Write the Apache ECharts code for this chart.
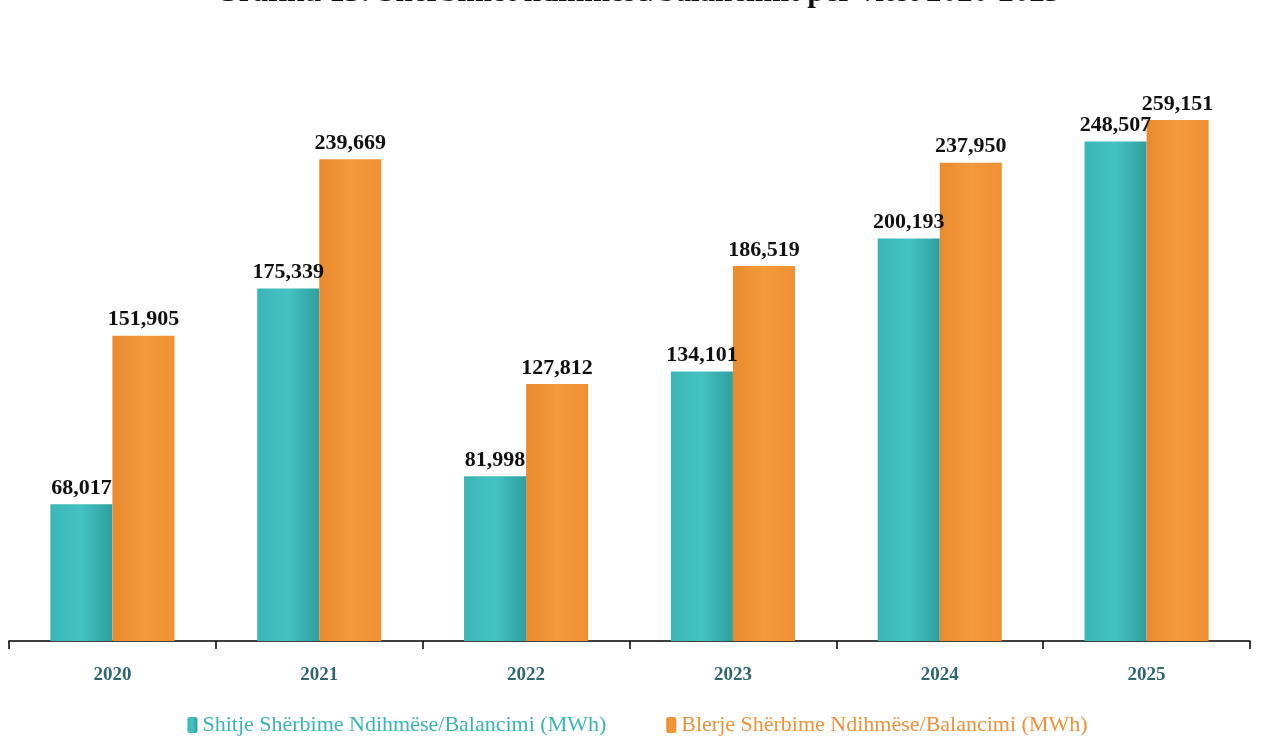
<!DOCTYPE html>
<html>
<head>
<meta charset="utf-8">
<title>Grafiku</title>
<script src="https://cdn.jsdelivr.net/npm/echarts@6/dist/echarts.min.js"></script>
<style>
	html,body{margin:0;padding:0;background:#fff;}
	#chart{width:1275px;height:743px;}
</style>
</head>
<body>
<div id="chart"></div>
<script>
	// te dhenat
	var years = ['2020','2021','2022','2023','2024','2025'];
	var shitje = [68017, 175339, 81998, 134101, 200193, 248507];
	var blerje = [151905, 239669, 127812, 186519, 237950, 259151];
	var seriesNames = ['Shitje Shërbime Ndihmëse/Balancimi (MWh)', 'Blerje Shërbime Ndihmëse/Balancimi (MWh)'];

	var serif = '"Liberation Serif", "DejaVu Serif", serif';

	var fmt = function(v){
		return String(v).replace(/\B(?=(\d{3})+(?!\d))/g, ',');
	};

	var grad = function(c1, c2, c3){
		return new echarts.graphic.LinearGradient(0, 0, 1, 0, [
			{offset:0, color:c1},
			{offset:0.5, color:c2},
			{offset:1, color:c3}
		]);
	};

	var labelStyle = {
		show:true,
		position:'top',
		distance:5,
		fontFamily:serif,
		fontWeight:'bold',
		fontSize:22,
		color:'#111',
		formatter:function(p){ return fmt(p.value); }
	};

	var myChart = echarts.init(document.getElementById('chart'));
	var option = {
		animation:false,
		title:{
			text:'Grafiku 13: Shërbimet ndihmëse/balancimit për vitet 2020-2025',
			left:'center',
			top:-28,
			textStyle:{fontFamily:serif, fontWeight:'bold', fontSize:31, color:'#111'}
		},
		legend:{
			bottom:2,
			left:'center',
			itemGap:60,
			itemWidth:10,
			itemHeight:16,
			textStyle:{fontFamily:serif, fontSize:22},
			data:[
				{name:seriesNames[0], textStyle:{color:'#3AB4B4'}},
				{name:seriesNames[1], textStyle:{color:'#F0913A'}}
			]
		},
		grid:{left:9, right:25, top:38, bottom:102},
		xAxis:{
			type:'category',
			data:years,
			axisLine:{lineStyle:{color:'#000', width:1.5}},
			axisTick:{show:true, length:8, lineStyle:{color:'#000', width:1.5}},
			axisLabel:{margin:25, fontFamily:serif, fontWeight:'bold', fontSize:19, color:'#2E6670'}
		},
		yAxis:{
			type:'value',
			min:0,
			max:300000,
			show:false,
			splitLine:{show:false}
		},
		series:[
			{
				name:seriesNames[0],
				type:'bar',
				data:shitje,
				barGap:'0%',
				barCategoryGap:'40%',
				itemStyle:{color:grad('#3BB6B6','#45C2C2','#2E9E9E')},
				label:labelStyle
			},
			{
				name:seriesNames[1],
				type:'bar',
				data:blerje,
				itemStyle:{color:grad('#E98A2E','#F39A3C','#EF9033')},
				label:labelStyle
			}
		]
	};
	myChart.setOption(option);
</script>
</body>
</html>
